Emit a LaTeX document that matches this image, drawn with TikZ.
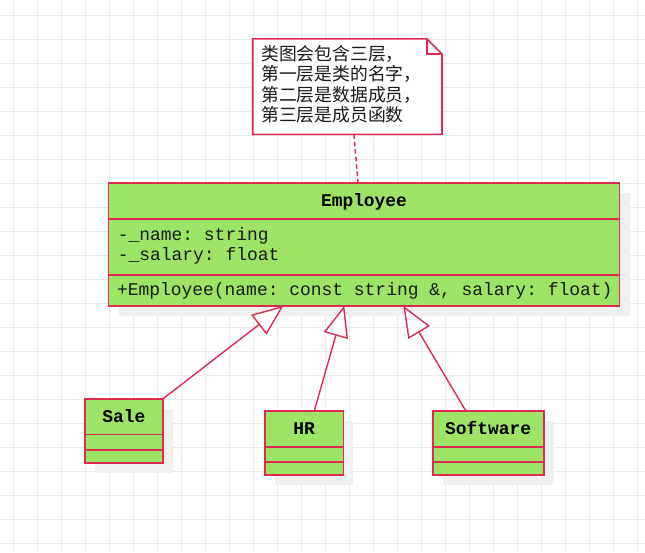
\documentclass[tikz,border=0pt]{standalone}
\usepackage{fontspec}
\newfontfamily\umlmono{Liberation Mono}
\newfontfamily\umlcjk{Noto Sans CJK SC}
\usetikzlibrary{arrows.meta,calc,shadows}
\definecolor{umlfill}{HTML}{9DE466}
\definecolor{umlline}{HTML}{DE2B4F}
\definecolor{gridc}{HTML}{EBEBEB}
\definecolor{shad}{HTML}{F0F0F0}
\definecolor{txt}{HTML}{1A1A1A}
\begin{document}
\begin{tikzpicture}[x=1pt,y=-1pt,
  gridline/.style={draw=gridc, line width=1pt},
  cls/.style={draw=umlline, fill=umlfill, line width=1.6pt, inner sep=0pt, outer sep=0pt,
    drop shadow={shadow xshift=10pt, shadow yshift=-10pt, fill=shad, opacity=1}},
  sepline/.style={draw=umlline, line width=1.6pt},
  clstitle/.style={font=\umlmono\bfseries\fontsize{17.9}{20}\selectfont\frenchspacing, text=black, inner sep=0pt},
  member/.style={font=\umlmono\fontsize{17.95}{20}\selectfont\frenchspacing, text=txt, inner sep=0pt},
  notetext/.style={font=\umlcjk\fontsize{17.8}{20.5}\selectfont, text=txt, inner sep=0pt},
  noteline/.style={draw=umlline, line width=1.6pt, line join=miter},
  dashline/.style={draw=umlline, line width=1.5pt, dash pattern=on 4.5pt off 3pt},
  inherit/.style={draw=umlline, line width=1.4pt,
    -{Triangle[length=31pt, width=25pt, fill=white]}}
]
\useasboundingbox (0,0) rectangle (645,552);
\fill[white] (0,0) rectangle (645,552);
\foreach \i in {0,...,26} \draw[gridline] (13+24*\i,0) -- (13+24*\i,552);
\foreach \j in {0,...,22} \draw[gridline] (0,15+24*\j) -- (645,15+24*\j);

% note
\node[minimum width=189.3pt, minimum height=95.5pt, inner sep=0pt, outer sep=0pt, anchor=north west] (note) at (252.7,38.8) {};
\filldraw[noteline, fill=white] (note.north west) -- ($(note.north east)+(-15.3,0)$) -- ($(note.north east)+(0,15.3)$) -- (note.south east) -- (note.south west) -- cycle;
\draw[noteline] ($(note.north east)+(-15.3,0)$) -- ($(note.north east)+(-15.3,15.3)$) -- ($(note.north east)+(0,15.3)$);
\node[notetext, anchor=base west] (nl1) at (261,60.4) {类图会包含三层，};
\node[notetext, anchor=base west] (nl2) at (261,80.8) {第一层是类的名字，};
\node[notetext, anchor=base west] (nl3) at (261,101.2) {第二层是数据成员，};
\node[notetext, anchor=base west] (nl4) at (261,121.6) {第三层是成员函数};

% Employee
\node[cls, minimum width=511pt, minimum height=123pt, anchor=north west] (emp) at (108.5,182.8) {};
\draw[sepline] ($(emp.north west)+(0,36.2)$) -- ($(emp.north east)+(0,36.2)$);
\draw[sepline] ($(emp.north west)+(0,91.9)$) -- ($(emp.north east)+(0,91.9)$);
\node[clstitle, anchor=base] (empT) at ($(emp.north)+(0,23.2)$) {Employee};
\node[member, anchor=base west] (empA) at (117.6,240.2) {-\_name: string};
\node[member, anchor=base west] (empB) at (117.6,260.4) {-\_salary: float};
\node[member, anchor=base west] (empM) at (116.8,295.0) {+Employee(name: const string \&, salary: float)};

% Sale
\node[cls, minimum width=78.3pt, minimum height=64pt, anchor=north west] (sale) at (84.7,398.8) {};
\draw[sepline] ($(sale.north west)+(0,35.6)$) -- ($(sale.north east)+(0,35.6)$);
\draw[sepline] ($(sale.north west)+(0,51.2)$) -- ($(sale.north east)+(0,51.2)$);
\node[clstitle, anchor=base] (saleT) at ($(sale.north)+(0,23.3)$) {Sale};

% HR
\node[cls, minimum width=78.3pt, minimum height=64pt, anchor=north west] (hr) at (265,410.7) {};
\draw[sepline] ($(hr.north west)+(0,36)$) -- ($(hr.north east)+(0,36)$);
\draw[sepline] ($(hr.north west)+(0,51)$) -- ($(hr.north east)+(0,51)$);
\node[clstitle, anchor=base] (hrT) at ($(hr.north)+(0,23.7)$) {HR};

% Software
\node[cls, minimum width=111pt, minimum height=64pt, anchor=north west] (sw) at (432.7,410.7) {};
\draw[sepline] ($(sw.north west)+(0,36)$) -- ($(sw.north east)+(0,36)$);
\draw[sepline] ($(sw.north west)+(0,51)$) -- ($(sw.north east)+(0,51)$);
\node[clstitle, anchor=base] (swT) at ($(sw.north)+(0,23.7)$) {Software};

% connectors
\draw[dashline] ($(note.south west)+(101.3,0)$) -- ($(emp.north west)+(249.5,0)$);
\draw[inherit] (sale.north east) -- ($(emp.south west)+(174.8,0)$);
\draw[inherit] ($(hr.north)+(10.2,0)$) -- ($(emp.south west)+(235.8,0)$);
\draw[inherit] ($(sw.north)+(-22.5,0)$) -- ($(emp.south west)+(294.8,0)$);
\end{tikzpicture}
\end{document}
